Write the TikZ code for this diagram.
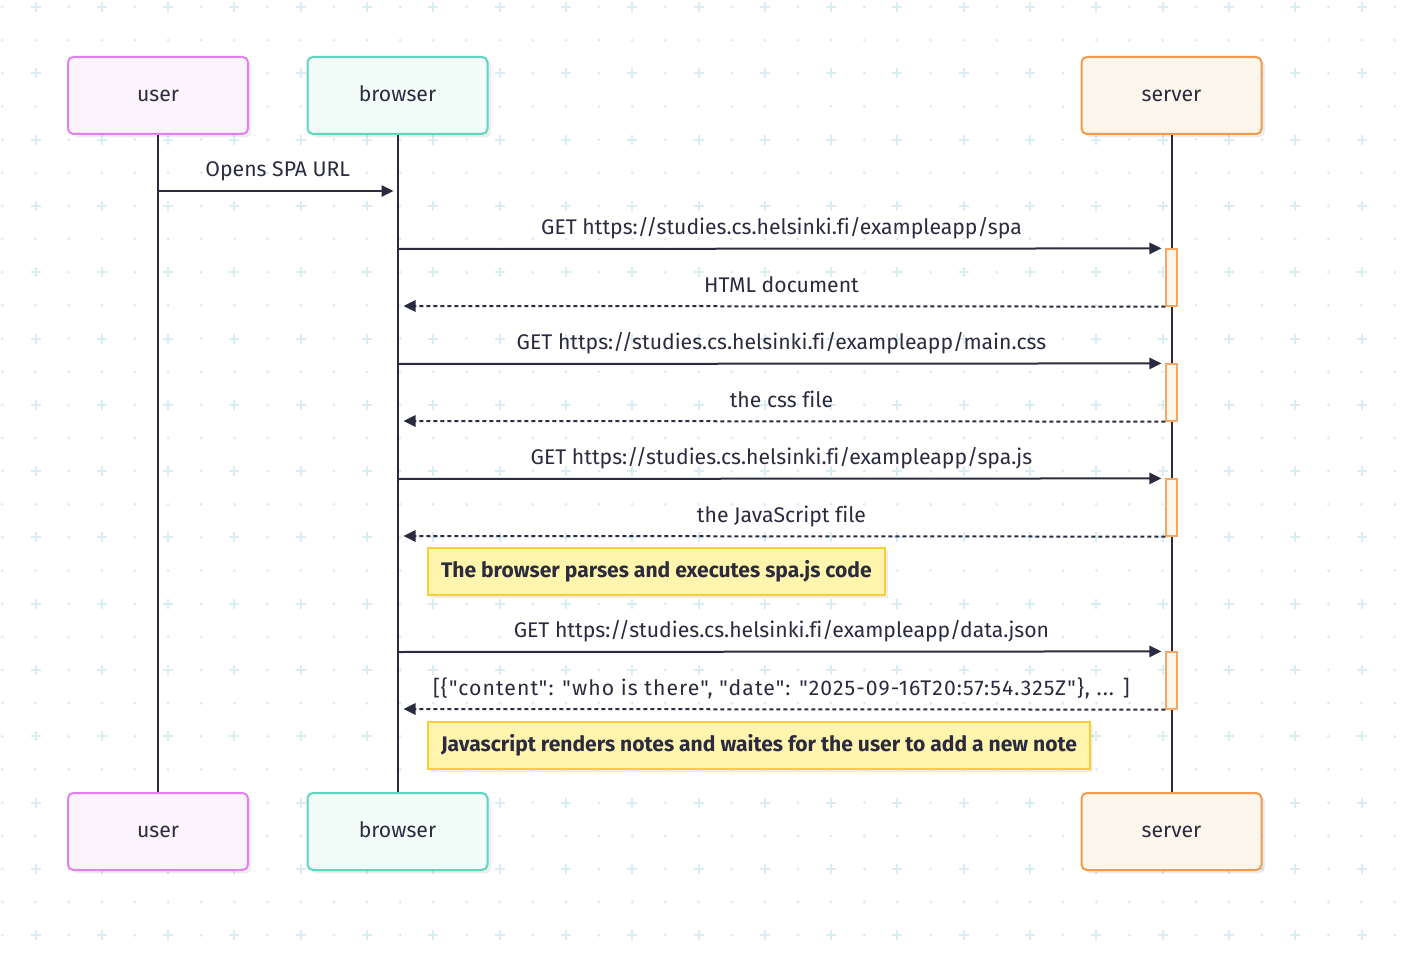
\documentclass[tikz,border=0pt]{standalone}
\usepackage{fontspec}
\setmainfont{Fira Sans}[Ligatures={CommonOff,TeXOff}]
\usetikzlibrary{arrows.meta,shadows,calc}
\definecolor{ink}{HTML}{2B2B40}
\definecolor{gridc}{HTML}{D8EEF3}
\definecolor{userline}{HTML}{E47FF0}
\definecolor{userfill}{HTML}{FCF4FD}
\definecolor{browline}{HTML}{5DD5BF}
\definecolor{browfill}{HTML}{F2FCF9}
\definecolor{servline}{HTML}{F49A4E}
\definecolor{servfill}{HTML}{FDF6EC}
\definecolor{actline}{HTML}{F6A863}
\definecolor{actfill}{HTML}{FFF6EA}
\definecolor{noteline}{HTML}{F5CE3A}
\definecolor{notefill}{HTML}{FFF5AD}
\newcommand{\lblfont}{\fontsize{15.9}{19}\selectfont}
\newcommand{\notefont}{\fontsize{15.8}{19}\selectfont\bfseries}
\newcommand{\dq}{\symbol{34}}
\begin{document}
\begin{tikzpicture}[x=0.75pt,y=-0.75pt,
  softshadow/.style={drop shadow={shadow xshift=2.5pt,shadow yshift=-2.5pt,fill=black,opacity=0.07}},
  actor/.style={rectangle, rounded corners=4pt, line width=1.5pt, minimum width=135pt,
    minimum height=57.75pt, text=ink, font=\lblfont, text height=11pt, text depth=1.7pt, softshadow},
  useractor/.style={actor, draw=userline, fill=userfill},
  browactor/.style={actor, draw=browline, fill=browfill},
  servactor/.style={actor, draw=servline, fill=servfill},
  lifeline/.style={draw=ink, line width=1.5pt},
  actbar/.style={rectangle, draw=actline, fill=actfill, line width=0.9pt,
    minimum width=8.25pt, minimum height=42.75pt, inner sep=0pt},
  msg/.style={draw=ink, line width=1.5pt, -{Triangle[length=9pt,width=8.5pt]}},
  reply/.style={msg, dash pattern=on 3pt off 2.25pt},
  lbl/.style={font=\lblfont, text=ink, anchor=base, midway, yshift=10.5pt, inner sep=0pt},
  notebox/.style={rectangle, draw=noteline, fill=notefill, line width=1.5pt, font=\notefont,
    text=ink, minimum height=35.25pt, inner xsep=9.75pt, anchor=west, softshadow},
  gridline/.style={draw=gridc, line width=1.5pt}
]
\useasboundingbox (0,0) rectangle (1412,962);
\fill[white] (0,0) rectangle (1412,962);
% background grid
\foreach \k in {0,2,...,40}{
  \foreach \j in {0,2,...,28}{
    \pgfmathsetmacro\gx{35.5+33.15*\k}
    \pgfmathsetmacro\gy{7+33.15*\j}
    \draw[gridline] (\gx-5,\gy) -- (\gx+5,\gy) (\gx,\gy-5) -- (\gx,\gy+5);
  }
}
\foreach \k in {-1,1,...,41}{
  \foreach \j in {0,1,...,28}{
    \pgfmathsetmacro\gx{35.5+33.15*\k}
    \pgfmathsetmacro\gy{7+33.15*\j}
    \fill[gridc] (\gx,\gy) circle[radius=1.2pt];
  }
}
\foreach \k in {0,2,...,40}{
  \foreach \j in {1,3,...,27}{
    \pgfmathsetmacro\gx{35.5+33.15*\k}
    \pgfmathsetmacro\gy{7+33.15*\j}
    \fill[gridc] (\gx,\gy) circle[radius=1.2pt];
  }
}
% actors
\node[useractor] (ut) at (158,95.5) {user};
\node[browactor] (bt) at (397.5,95.5) {browser};
\node[servactor] (st) at (1171.5,95.5) {server};
\node[useractor] (ub) at (158,831.5) {user};
\node[browactor] (bb) at (397.5,831.5) {browser};
\node[servactor] (sb) at (1171.5,831.5) {server};
% lifelines
\draw[lifeline] (ut.south) -- (ub.north);
\draw[lifeline] (bt.south) -- (bb.north);
\draw[lifeline] (st.south) -- (sb.north);
% activation bars
\node[actbar] (a1) at (1171.5,277.5) {};
\node[actbar] (a2) at (1171.5,392.5) {};
\node[actbar] (a3) at (1171.5,507.5) {};
\node[actbar] (a4) at (1171.5,680.5) {};
% coordinates on lifelines
\coordinate (u1) at (158,191);
\coordinate (b1) at (397.5,191);
\coordinate (b2) at (397.5,249);
\coordinate (b3) at (397.5,306);
\coordinate (b4) at (397.5,364);
\coordinate (b5) at (397.5,421);
\coordinate (b6) at (397.5,479);
\coordinate (b7) at (397.5,536);
\coordinate (b8) at (397.5,652);
\coordinate (b9) at (397.5,709);
% messages
\draw[msg, shorten >=3pt] (u1) -- node[lbl]{Opens SPA URL} (b1);
\draw[msg, shorten >=3pt] (b2) -- node[lbl]{GET https://studies.cs.helsinki.fi/exampleapp/spa} (a1.north west);
\draw[reply, shorten >=4.5pt] (a1.south west) -- node[lbl]{HTML document} (b3);
\draw[msg, shorten >=3pt] (b4) -- node[lbl]{GET https://studies.cs.helsinki.fi/exampleapp/main.css} (a2.north west);
\draw[reply, shorten >=4.5pt] (a2.south west) -- node[lbl]{the css file} (b5);
\draw[msg, shorten >=3pt] (b6) -- node[lbl]{GET https://studies.cs.helsinki.fi/exampleapp/spa.js} (a3.north west);
\draw[reply, shorten >=4.5pt] (a3.south west) -- node[lbl]{the JavaScript file} (b7);
\draw[msg, shorten >=3pt] (b8) -- node[lbl]{GET https://studies.cs.helsinki.fi/exampleapp/data.json} (a4.north west);
\draw[reply, shorten >=4.5pt] (a4.south west) -- node[lbl]{\addfontfeatures{LetterSpace=5}[\{\dq content\dq: \dq who is there\dq, \dq date\dq: \dq 2025-09-16T20:57:54.325Z\dq\}, ... ]} (b9);
% notes
\node[notebox] (n1) at (427,571.5) {The browser parses and executes spa.js code};
\node[notebox] (n2) at (427,745.5) {Javascript renders notes and waites for the user to add a new note};
\end{tikzpicture}
\end{document}
